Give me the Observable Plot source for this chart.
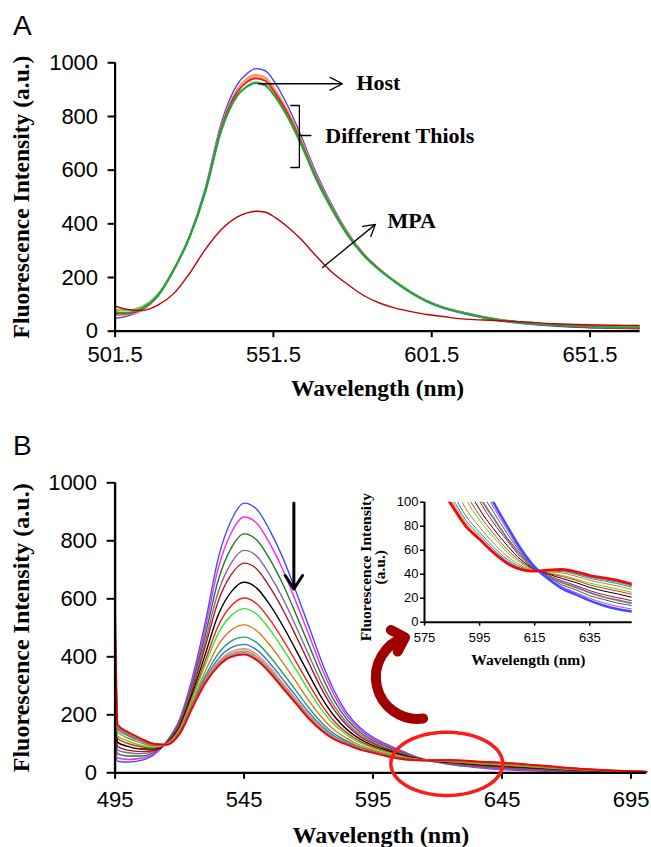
<!DOCTYPE html>
<html><head><meta charset="utf-8">
<script src="https://cdn.jsdelivr.net/npm/d3@7"></script>
<script src="https://cdn.jsdelivr.net/npm/@observablehq/plot@0.6"></script>
<style>
body{margin:0;background:#fff;}
#wrap{position:relative;width:651px;height:847px;overflow:hidden;background:#fff;}
.lab{position:absolute;font-family:"Liberation Sans",Arial,sans-serif;font-size:28px;line-height:28px;color:#000;}
</style></head>
<body><div id="wrap"></div>
<script>
// ---------- Panel A data ----------
const wlA = [501.5, 505, 510, 515, 520, 525, 530, 535, 540, 543, 546, 549, 552, 556, 560, 565, 570, 575, 580, 585, 590, 595, 600, 605, 610, 615, 620, 630, 640, 650, 660, 667];
const hostA   = [48, 55, 78, 130, 230, 356, 535, 775, 918, 958, 978, 970, 925, 840, 735, 590, 470, 368, 288, 230, 184, 143, 109, 86, 70, 56, 44, 28, 19, 13, 11, 10];
const orangeA = [60, 62, 80, 131, 230, 354, 528, 762, 900, 940, 955, 945, 900, 822, 722, 580, 463, 365, 288, 232, 186, 146, 113, 90, 74, 61, 49, 33, 25, 20, 17, 16];
const salmonA = [64, 65, 82, 132, 229, 352, 525, 758, 895, 933, 948, 938, 893, 816, 716, 576, 460, 362, 286, 231, 185, 145, 112, 89, 73, 60, 48, 32, 24, 19, 16, 15];
const redA    = [66, 66, 83, 132, 228, 351, 523, 755, 890, 927, 942, 932, 888, 811, 712, 573, 458, 360, 285, 230, 184, 144, 112, 89, 73, 60, 48, 32, 22, 15, 12, 10];
const oliveA  = [80, 78, 92, 138, 230, 350, 518, 744, 874, 912, 928, 918, 874, 797, 700, 564, 452, 355, 282, 228, 184, 145, 113, 90, 74, 61, 49, 33, 25, 19, 16, 15];
const greenA  = [71, 69, 85, 133, 228, 350, 520, 748, 878, 910, 925, 915, 875, 800, 705, 568, 455, 358, 283, 228, 183, 143, 111, 88, 72, 59, 47, 31, 23, 18, 15, 14];
const mpaA    = [93, 82, 77, 97, 140, 215, 305, 378, 425, 440, 447, 443, 424, 388, 345, 280, 220, 174, 133, 105, 86, 73, 62, 55, 47, 43, 41, 35, 28, 24, 22, 21];
const xTicksA = [501.5, 551.5, 601.5, 651.5];
const yTicks = [0, 200, 400, 600, 800, 1000];

// annotations of panel A (data units)
const hostArrow = [{x1: 546.8, y1: 922, x2: 573.3, y2: 922}];
const mpaArrow = [{x1: 567.0, y1: 237, x2: 583.7, y2: 398}];
const labelsA = [
  {x: 577.7, y: 926, text: "Host"},
  {x: 567.9, y: 729, text: "Different Thiols"},
  {x: 587.5, y: 412, text: "MPA"}
];
const bracketA = [{x: 557.0, y: 841}, {x: 559.7, y: 841}, {x: 559.7, y: 610}, {x: 557.0, y: 610}];
const bracketTick = [{x: 559.7, y: 729}, {x: 563.3, y: 729}];

// ---------- Panel B data ----------
const wlB = [495, 496, 500, 505, 510, 515, 520, 525, 530, 535, 540, 545, 550, 555, 560, 565, 570, 575, 580, 585, 590, 595, 600, 605, 610, 615, 620, 625, 630, 635, 640, 645, 650, 660, 675, 690, 701];
const s1  = [60, 40, 37, 43, 62, 108, 185, 330, 520, 740, 870, 930, 908, 835, 742, 628, 508, 385, 282, 205, 155, 122, 100, 80, 61, 46, 36, 28, 23, 18, 14, 11, 9, 6, 4, 3, 2];
const s2  = [103, 51, 46, 50, 65, 107, 180, 320, 501, 706, 827, 882, 860, 790, 701, 592, 479, 363, 267, 195, 148, 117, 96, 77, 59, 45.7, 36.7, 29.5, 24.7, 19.9, 16.1, 13.2, 11.1, 7.7, 4.9, 3.4, 2.2];
const s3  = [155, 65, 58, 58, 70, 106, 175, 309, 477, 665, 775, 824, 802, 736, 651, 549, 443, 337, 248, 183, 140, 111, 92, 74, 58, 45, 37.5, 31, 27, 22, 19, 16, 14, 10, 6, 4, 2.4];
const s4  = [207, 79, 69, 66, 74, 105, 169, 297, 455, 624, 723, 767, 746, 682, 602, 507, 408, 310, 230, 171, 132, 105, 87, 70, 56, 45, 38, 33, 29, 24.6, 21, 18.5, 16, 12, 7, 4.2, 2.6];
const s5  = [247, 90, 78, 73, 77, 104, 165, 288, 437, 592, 683, 723, 702, 640, 563, 474, 381, 290, 216, 162, 125, 101, 83, 68, 54, 44.6, 39, 34.4, 30.5, 26.3, 23, 20.5, 18, 13.5, 8, 4.6, 2.8];
const s6  = [306, 105, 91, 82, 82, 102, 158, 275, 410, 545, 624, 657, 636, 579, 507, 425, 341, 260, 195, 148, 116, 94, 78, 64, 52, 44.2, 40, 36.4, 33, 29, 26, 23.6, 21, 16, 9.2, 5.1, 3];
const s7  = [354, 118, 101, 90, 86, 101, 153, 264, 388, 507, 576, 603, 582, 528, 460, 385, 308, 235, 177, 137, 108, 89, 74, 60.6, 50.4, 43.8, 40.7, 38, 35, 31, 28.4, 26, 23.4, 18, 10.3, 5.5, 3.3];
const s8  = [388, 127, 109, 95, 88.5, 100, 149.5, 257, 374, 481, 542, 566, 546, 493.5, 428, 358, 285, 218, 165.6, 130, 103, 85, 71, 58.4, 49, 43.6, 41.2, 39, 36, 32.6, 30, 27.7, 25, 19, 11, 5.8, 3.4];
const s9  = [438, 141, 120, 103, 92.6, 99, 144, 245.5, 351, 440.5, 492, 510, 489, 440.6, 380, 316, 250, 192.6, 147.6, 118, 94.6, 79.3, 66, 55, 47.3, 43.2, 42, 41, 38.3, 35, 32.5, 30.3, 27.5, 21.3, 12, 6.2, 3.6];
const s10 = [476, 150.6, 128, 109, 95.6, 98.3, 140, 237, 334, 411, 454, 468, 448, 401, 344, 285, 225, 173.5, 134, 109.4, 88.6, 75, 62.8, 52.6, 46, 42.9, 42.6, 42.2, 39.8, 36.6, 34.4, 32.2, 29.4, 22.8, 12.8, 6.5, 3.8];
const s11 = [498.5, 156.6, 133, 113, 97.5, 97.7, 137.4, 232, 324, 393, 431.5, 443, 423, 378, 322, 266, 209.4, 162, 126, 104, 85, 72.6, 60.8, 51, 45, 42.7, 43, 42.9, 40.7, 37.6, 35.5, 33.4, 30.5, 23.7, 13.3, 6.7, 3.9];
const s12 = [512, 160, 136, 115, 98.6, 97.4, 136, 229, 318, 382, 418, 428, 408, 364, 309, 255, 200, 155, 121, 101, 83, 71, 59.6, 50.2, 44.6, 42.6, 43.2, 43.4, 41.3, 38.2, 36.1, 34.1, 31.1, 24.3, 13.6, 6.8, 3.9];
const s13 = [519, 162, 137.6, 116, 99, 97.3, 135.2, 227.4, 314.8, 376.6, 410.8, 420, 400, 356.3, 302.4, 249, 195.4, 151.5, 118.8, 99.5, 81.7, 70.2, 59, 49.7, 44.4, 42.6, 43.3, 43.6, 41.6, 38.5, 36.5, 34.4, 31.5, 24.6, 13.8, 6.9, 4];
const s14 = [524, 163.5, 138.8, 117, 99.5, 97.1, 134.6, 226.3, 312.5, 372.5, 405.6, 414, 394, 351, 297.4, 244.7, 191.8, 148.9, 117, 98.3, 80.9, 69.6, 58.5, 49.4, 44.2, 42.5, 43.4, 43.8, 41.8, 38.7, 36.7, 34.7, 31.7, 24.8, 13.9, 6.95, 4];
const s15 = [530, 165, 140, 118, 100, 97, 134, 225, 310, 368, 400, 408, 388, 345, 292, 240, 188, 146, 115, 97, 80, 69, 58, 49, 44, 42.5, 43.5, 44, 42, 39, 37, 35, 32, 25, 14, 7, 4];
const seriesB = [s1, s2, s3, s4, s5, s6, s7, s8, s9, s10, s11, s12, s13, s14, s15];
const colorsB = ["#3f4fff", "#ff22ff", "#1e7b1e", "#7f6a9c", "#b01818", "#000000", "#ff1a1a", "#2ee82e", "#e5751a", "#1f9e6e", "#3a6cf0", "#f08c3c", "#9a9a72", "#6aa0c8", "#ff0000"];
const xTicksB = [495, 545, 595, 645, 695];
const xTicksInset = [575, 595, 615, 635];
const yTicksInset = [0, 20, 40, 60, 80, 100];

// annotations of panel B (data units)
const downArrow = [{x1: 564.3, y1: 930, x2: 564.3, y2: 634}];
const curvedArrow = [{x1: 614.4, y1: 187, x2: 607.4, y2: 467}];
const ellipseB = {cx: 623.6, cy: 31, rx: 21.7, ry: 109};

const SANS = "Liberation Sans, Arial, sans-serif";
const SERIF = "Liberation Serif, Times New Roman, serif";
const toRows = (wl, vals) => wl.map((x, i) => ({x, y: vals[i]}));

const wrap = document.getElementById("wrap");
function place(el, left, top) {
  el.style.position = "absolute";
  el.style.left = left + "px";
  el.style.top = top + "px";
  wrap.appendChild(el);
}

// ---------- Panel A ----------
const linesA = [
  [hostA, "#3a3aff", 1.3],
  [orangeA, "#f79646", 1.8],
  [salmonA, "#f2a98a", 1.8],
  [redA, "#ff1010", 1.8],
  [oliveA, "#9bbb59", 1.8],
  [greenA, "#13a84a", 2],
  [mpaA, "#c00000", 1.4]
].map(([v, c, w]) => Plot.line(toRows(wlA, v), {x: "x", y: "y", stroke: c, strokeWidth: w, curve: "monotone-x"}));

const plotA = Plot.plot({
  width: 651, height: 400,
  marginLeft: 114.6, marginRight: 11.4, marginTop: 62.3, marginBottom: 69.3,
  style: {background: "transparent", fontFamily: SANS, overflow: "visible", color: "#000"},
  x: {domain: [501.5, 667.3]},
  y: {domain: [0, 1000]},
  marks: [
    ...linesA,
    Plot.ruleX([501.5], {strokeWidth: 2.2}),
    Plot.ruleY([0], {strokeWidth: 2.2}),
    Plot.axisY({ticks: yTicks, tickSize: 7, tickPadding: 10, strokeWidth: 2, fontSize: 22, fontFamily: SANS, tickFormat: d => String(d), label: null}),
    Plot.axisX({ticks: xTicksA, tickSize: 6.5, tickPadding: 9, strokeWidth: 2, fontSize: 22, fontFamily: SANS, tickFormat: d => d.toFixed(1), label: null}),
    Plot.text(["Fluorescence Intensity (a.u.)"], {frameAnchor: "left", rotate: -90, dx: -93.6, textAnchor: "middle", lineAnchor: "middle", fontSize: 23.5, fontWeight: "bold", fontFamily: SERIF}),
    Plot.text(["Wavelength (nm)"], {frameAnchor: "bottom", dy: 57, textAnchor: "middle", lineAnchor: "middle", fontSize: 23.5, fontWeight: "bold", fontFamily: SERIF}),
    Plot.arrow(hostArrow, {x1: "x1", y1: "y1", x2: "x2", y2: "y2", strokeWidth: 1.3, headLength: 16, headAngle: 55, stroke: "#000"}),
    Plot.arrow(mpaArrow, {x1: "x1", y1: "y1", x2: "x2", y2: "y2", strokeWidth: 1.3, headLength: 15, headAngle: 60, stroke: "#000"}),
    Plot.line(bracketA, {x: "x", y: "y", stroke: "#000", strokeWidth: 1.3}),
    Plot.line(bracketTick, {x: "x", y: "y", stroke: "#000", strokeWidth: 1.6}),
    Plot.text(labelsA, {x: "x", y: "y", text: "text", textAnchor: "start", lineAnchor: "middle", fontSize: 22, fontWeight: "bold", fontFamily: SERIF, fill: "#000"})
  ]
});
place(plotA, 0, 0);

// ---------- Panel B ----------
const linesB = seriesB.map((v, i) => Plot.line(toRows(wlB, v), {x: "x", y: "y", stroke: colorsB[i], strokeWidth: i === 14 ? 2 : 1.4, curve: "monotone-x"}));
const ellipsePts = d3.range(0, 361, 4).map(a => ({x: ellipseB.cx + ellipseB.rx * Math.cos(a * Math.PI / 180), y: ellipseB.cy + ellipseB.ry * Math.sin(a * Math.PI / 180)}));

const plotB = Plot.plot({
  width: 651, height: 447,
  marginLeft: 114.6, marginRight: 5, marginTop: 82.3, marginBottom: 74.7,
  style: {background: "transparent", fontFamily: SANS, overflow: "visible", color: "#000"},
  x: {domain: [495, 701]},
  y: {domain: [0, 1000]},
  marks: [
    ...linesB,
    Plot.ruleX([495], {strokeWidth: 2.4}),
    Plot.ruleY([0], {strokeWidth: 2.2}),
    Plot.axisY({ticks: yTicks, tickSize: 8, tickPadding: 10, strokeWidth: 2, fontSize: 22, fontFamily: SANS, tickFormat: d => String(d), label: null}),
    Plot.axisX({ticks: xTicksB, tickSize: 6.5, tickPadding: 12, strokeWidth: 2, fontSize: 22, fontFamily: SANS, tickFormat: d => String(d), label: null}),
    Plot.text(["Fluorescence Intensity (a.u.)"], {frameAnchor: "left", rotate: -90, dx: -93.6, textAnchor: "middle", lineAnchor: "middle", fontSize: 24, fontWeight: "bold", fontFamily: SERIF}),
    Plot.text(["Wavelength (nm)"], {frameAnchor: "bottom", dy: 62.7, textAnchor: "middle", lineAnchor: "middle", fontSize: 24, fontWeight: "bold", fontFamily: SERIF}),
    Plot.arrow(downArrow, {x1: "x1", y1: "y1", x2: "x2", y2: "y2", strokeWidth: 3, headLength: 8, headAngle: 66, stroke: "#000"}),
    Plot.line(ellipsePts, {x: "x", y: "y", stroke: "#ff1a1a", strokeWidth: 3.5, curve: "linear"}),
    Plot.arrow(curvedArrow, {x1: "x1", y1: "y1", x2: "x2", y2: "y2", bend: 85, strokeWidth: 10, headLength: 2.4, headAngle: 90, stroke: "#a00000"})
  ]
});
place(plotB, 0, 400);

// ---------- Inset ----------
const insetWidth = i => (i === 0 || i === 14) ? 2.6 : (i === 3 ? 1.8 : 1);
const insetOrder = [13, 12, 11, 10, 9, 8, 7, 6, 5, 4, 2, 1, 3, 0, 14];
const linesInset = insetOrder.map(i => Plot.line(toRows(wlB, seriesB[i]), {x: "x", y: "y", stroke: colorsB[i], strokeWidth: insetWidth(i), curve: "monotone-x", clip: true}));

const plotI = Plot.plot({
  width: 300, height: 190,
  marginLeft: 74, marginRight: 18.3, marginTop: 19.7, marginBottom: 50.3,
  style: {background: "transparent", fontFamily: SANS, overflow: "visible", color: "#000"},
  x: {domain: [575, 650.4]},
  y: {domain: [0, 100]},
  marks: [
    ...linesInset,
    Plot.ruleX([575], {strokeWidth: 2}),
    Plot.ruleY([0], {strokeWidth: 2}),
    Plot.axisY({ticks: yTicksInset, tickSize: 4, tickPadding: 2, strokeWidth: 1.5, fontSize: 13, fontFamily: SANS, tickFormat: d => String(d), label: null}),
    Plot.axisX({ticks: xTicksInset, tickSize: 4, tickPadding: 7, strokeWidth: 1.5, fontSize: 13, fontFamily: SANS, tickFormat: d => String(d), label: null}),
    Plot.text(["Fluorescence Intensity"], {frameAnchor: "left", rotate: -90, dx: -58, dy: 5, textAnchor: "middle", lineAnchor: "middle", fontSize: 15.5, fontWeight: "bold", fontFamily: SERIF}),
    Plot.text(["(a.u.)"], {frameAnchor: "left", rotate: -90, dx: -44, dy: 5, textAnchor: "middle", lineAnchor: "middle", fontSize: 15.5, fontWeight: "bold", fontFamily: SERIF}),
    Plot.text(["Wavelength (nm)"], {frameAnchor: "bottom", dy: 38.3, textAnchor: "middle", lineAnchor: "middle", fontSize: 15.5, fontWeight: "bold", fontFamily: SERIF})
  ]
});
place(plotI, 350, 482);

// ---------- Panel letters ----------
for (const [t, top] of [["A", 12.3], ["B", 432]]) {
  const d = document.createElement("div");
  d.className = "lab";
  d.textContent = t;
  place(d, 13, top);
}
</script></body></html>
